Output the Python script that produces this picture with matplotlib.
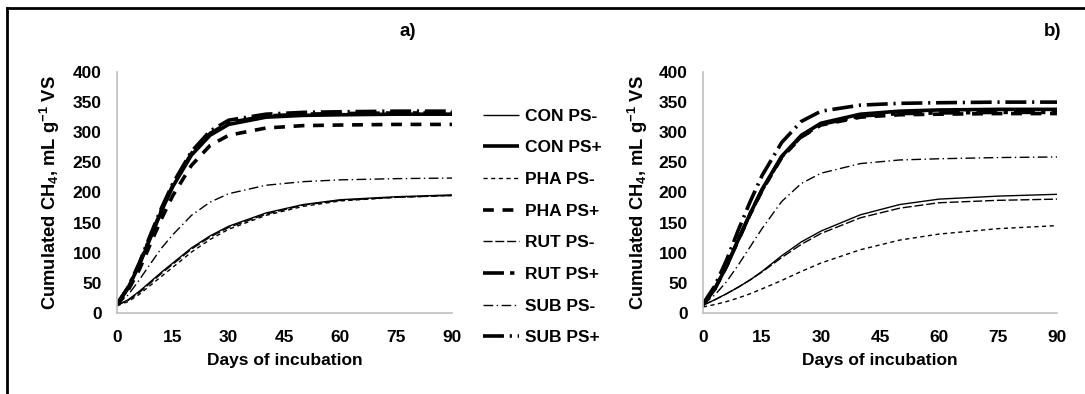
import numpy as np
import matplotlib
matplotlib.use("Agg")
import matplotlib.pyplot as plt
from matplotlib.lines import Line2D

plt.rcParams['font.family'] = ['Liberation Sans', 'DejaVu Sans']
plt.rcParams['font.weight'] = 'bold'
plt.rcParams['font.size'] = 12.5
plt.rcParams['mathtext.fontset'] = 'custom'
plt.rcParams['mathtext.rm'] = 'Liberation Sans:bold'
plt.rcParams['mathtext.it'] = 'Liberation Sans:bold'
plt.rcParams['mathtext.bf'] = 'Liberation Sans:bold'
plt.rcParams['mathtext.default'] = 'rm'

# days of incubation
days = [0, 3, 6, 9, 12, 15, 20, 25, 30, 40, 50, 60, 75, 90]
labels = ["CON PS-", "CON PS+", "PHA PS-", "PHA PS+",
          "RUT PS-", "RUT PS+", "SUB PS-", "SUB PS+"]

# panel a) cumulated CH4 (mL g-1 VS)
a_con_m = [13, 22, 36, 52, 68, 83, 108, 128, 144, 166, 180, 188, 193, 196]
a_con_p = [14, 42, 80, 125, 170, 210, 262, 295, 313, 325, 328, 329, 330, 330]
a_pha_m = [12, 19, 31, 46, 61, 76, 101, 122, 139, 162, 177, 186, 192, 195]
a_pha_p = [13, 38, 72, 115, 157, 195, 245, 278, 295, 307, 311, 312, 313, 313]
a_rut_m = [13, 21, 34, 50, 66, 81, 106, 126, 142, 164, 179, 187, 192, 195]
a_rut_p = [14, 42, 82, 127, 172, 212, 265, 298, 316, 327, 330, 331, 332, 332]
a_sub_m = [14, 30, 55, 82, 108, 130, 162, 184, 198, 212, 218, 221, 223, 224]
a_sub_p = [15, 43, 83, 130, 175, 215, 268, 302, 320, 330, 333, 334, 335, 335]

# panel b)
b_con_m = [13, 22, 32, 43, 55, 69, 95, 118, 136, 163, 180, 189, 194, 197]
b_con_p = [14, 40, 78, 122, 165, 205, 260, 295, 315, 330, 335, 337, 338, 338]
b_pha_m = [10, 14, 19, 25, 32, 40, 54, 69, 83, 105, 121, 131, 140, 145]
b_pha_p = [14, 40, 78, 121, 164, 203, 258, 292, 312, 325, 329, 330, 331, 331]
b_rut_m = [13, 22, 32, 43, 55, 68, 92, 114, 132, 158, 174, 183, 187, 189]
b_rut_p = [14, 40, 78, 122, 165, 204, 259, 293, 313, 327, 331, 332, 333, 333]
b_sub_m = [14, 30, 52, 80, 110, 140, 185, 215, 232, 248, 254, 256, 258, 259]
b_sub_p = [15, 45, 88, 138, 185, 228, 283, 318, 335, 345, 348, 349, 350, 350]

series_a = [a_con_m, a_con_p, a_pha_m, a_pha_p, a_rut_m, a_rut_p, a_sub_m, a_sub_p]
series_b = [b_con_m, b_con_p, b_pha_m, b_pha_p, b_rut_m, b_rut_p, b_sub_m, b_sub_p]

# line styles (Excel-like)
thin, thick = 1.0, 2.6
styles = [
    dict(lw=thin, ls='-'),
    dict(lw=thick, ls='-'),
    dict(lw=thin, ls=(0, (3, 2.5))),
    dict(lw=thick, ls=(0, (3.0, 2.4))),
    dict(lw=thin, ls=(0, (6.5, 2))),
    dict(lw=thick, ls=(0, (5.8, 1.7, 1.2, 1.7))),
    dict(lw=thin, ls=(0, (7, 2.5, 1, 2.5))),
    dict(lw=thick, ls=(0, (5.8, 1.6, 0.6, 1.6))),
]

fig = plt.figure(figsize=(10.85, 3.94), dpi=100)
W, H = 1085, 394

ax_a = fig.add_axes([117 / W, 1 - 313 / H, (452 - 117) / W, (313 - 72) / H])
ax_b = fig.add_axes([703 / W, 1 - 313 / H, (1057 - 703) / W, (313 - 72) / H])

handles = []
for ax, series, ylab_x in [(ax_a, series_a, -0.165), (ax_b, series_b, -0.15)]:
    for vals, st, lab in zip(series, styles, labels):
        h, = ax.plot(days, vals, color='black', linewidth=st['lw'],
                     linestyle=st['ls'], label=lab, solid_capstyle='butt',
                     dash_capstyle='butt')
        if ax is ax_a:
            handles.append(h)
    ax.set_xlim(0, 90)
    ax.set_ylim(0, 400)
    ax.set_xticks(range(0, 91, 15))
    ax.set_yticks(range(0, 401, 50))
    ax.tick_params(length=0, labelsize=12.5)
    ax.tick_params(axis='x', pad=12)
    ax.tick_params(axis='y', pad=11)
    for s in ['top', 'right']:
        ax.spines[s].set_visible(False)
    for s in ['left', 'bottom']:
        ax.spines[s].set_color('#BFBFBF')
        ax.spines[s].set_linewidth(1.2)
    ax.set_xlabel("Days of incubation", fontsize=12.5, fontweight='bold')
    ax.xaxis.set_label_coords(0.5, -0.166)
    ax.set_ylabel("Cumulated CH$_4$, mL g$^{-1}$ VS", fontsize=13.2, fontweight='bold')
    ax.yaxis.set_label_coords(ylab_x, 0.5)

fig.text(408 / W, 1 - 32 / H, "a)", ha='center', va='center', fontsize=13.5, fontweight='bold')
fig.text(1053 / W, 1 - 32 / H, "b)", ha='center', va='center', fontsize=13.5, fontweight='bold')

fig.legend(handles=handles, loc='center left', bbox_to_anchor=(483 / W, 1 - 227 / H),
           frameon=False, fontsize=12.5, handlelength=2.1, handletextpad=0.3,
           labelspacing=0.95, borderpad=0, borderaxespad=0)

# frame lines (top and left)
fig.add_artist(Line2D([7 / W, 1.0], [1 - 8 / H, 1 - 8 / H], color='black', lw=2.0,
                      transform=fig.transFigure))
fig.add_artist(Line2D([7 / W, 7 / W], [1 - 8 / H, 0.0], color='black', lw=2.0,
                      transform=fig.transFigure))

fig.savefig("out.png", dpi=100)
